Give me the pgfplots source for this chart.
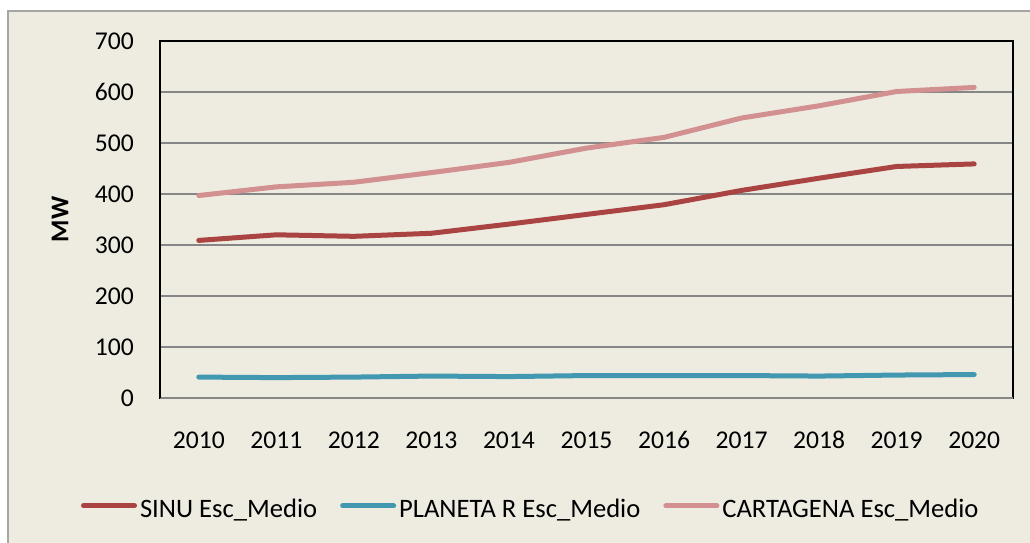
\documentclass[border=0pt]{standalone}
\usepackage{fontspec}
\setmainfont{Carlito}
\usepackage{pgfplots}
\pgfplotsset{compat=1.18}
\definecolor{bg}{HTML}{EEEBE1}
\definecolor{sinu}{HTML}{A94442}
\definecolor{planeta}{HTML}{4198B0}
\definecolor{carta}{HTML}{D39090}
\definecolor{gridc}{HTML}{868686}
\definecolor{framec}{HTML}{A6A6A6}
\begin{document}
\begin{tikzpicture}[x=1pt,y=1pt]
\useasboundingbox (0,0) rectangle (1030,542);
\begin{scope}
\clip (0,0) rectangle (1030,542);
\fill[white] (0,0) rectangle (1030,542);
\draw[framec, fill=bg, line width=2pt] (8,-10) rectangle (1040,531);
\end{scope}
\begin{axis}[
  at={(160pt,144pt)}, anchor=south west,
  scale only axis, width=853pt, height=357pt,
  font=\fontsize{25.6}{30}\selectfont,
  xmin=2009.5, xmax=2020.5, ymin=0, ymax=700,
  xtick={2010,2011,...,2020}, ytick={0,100,...,700},
  /pgf/number format/assume math mode=true,
  /pgf/number format/set thousands separator={},
  major tick length=0pt,
  ymajorgrids, major grid style={gridc, line width=2pt},
  axis line style={black, line width=2pt},
  axis background/.style={fill=bg},
  xticklabel style={anchor=base, yshift=-50pt},
  yticklabel style={anchor=east, inner sep=0pt, xshift=-26pt},
  ylabel={\bfseries MW},
  every axis y label/.style={at={(rel axis cs:-0.1172,0.5)}, rotate=90, anchor=center},
  legend columns=3,
  legend style={at={(rel axis cs:-0.0926,-0.311)}, anchor=west, draw=none, fill=none,
    font=\fontsize{26.6}{31}\selectfont,
    inner sep=0pt, outer sep=0pt, nodes={inner sep=0pt},
    /tikz/every odd column/.style={column sep=3pt},
    /tikz/every even column/.style={column sep=23pt}},
  legend image code/.code={\draw[#1, line width=5pt, line cap=round] (2.5pt,0.32em) -- (53.5pt,0.32em);},
  every axis plot/.append style={line width=5pt, line cap=round, line join=round, no markers},
]
\addplot[sinu] coordinates {(2010,309) (2011,320) (2012,317) (2013,323) (2014,341) (2015,360) (2016,379) (2017,407) (2018,431) (2019,454) (2020,459)};
\addlegendentry{SINU Esc\_Medio}
\addplot[planeta] coordinates {(2010,41) (2011,40) (2012,41) (2013,43) (2014,42) (2015,44) (2016,44) (2017,44) (2018,43) (2019,45) (2020,46)};
\addlegendentry{PLANETA R Esc\_Medio}
\addplot[carta] coordinates {(2010,397) (2011,414) (2012,423) (2013,442) (2014,462) (2015,490) (2016,511) (2017,549) (2018,573) (2019,601) (2020,609)};
\addlegendentry{CARTAGENA Esc\_Medio}
\draw[gridc, line width=2pt] (rel axis cs:0,0) -- (rel axis cs:1,0);
\draw[black, line width=2pt] (rel axis cs:0,0) -- (rel axis cs:0,1);
\end{axis}
\end{tikzpicture}
\end{document}
